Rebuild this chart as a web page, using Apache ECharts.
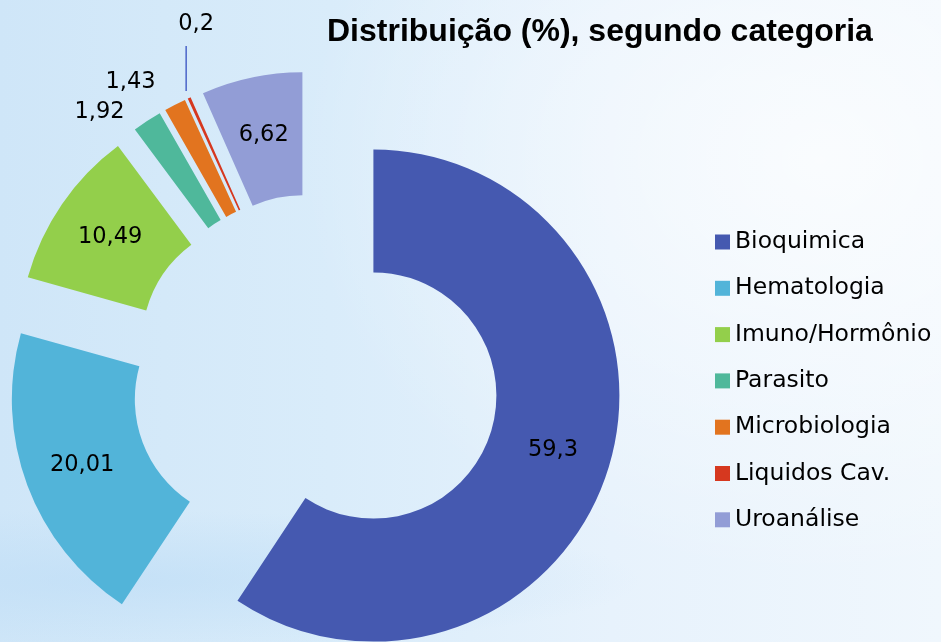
<!DOCTYPE html>
<html>
<head>
<meta charset="utf-8">
<script src="https://cdn.jsdelivr.net/npm/echarts@6/dist/echarts.min.js"></script>
<style>
  html, body { margin: 0; padding: 0; }
  #main {
    width: 941px; height: 642px;
    background:
      radial-gradient(ellipse 520px 70px at 120px 580px, rgba(188,220,246,0.6), rgba(188,220,246,0) 100%),
      radial-gradient(ellipse 520px 420px at 820px 160px, rgba(255,255,255,0.7), rgba(255,255,255,0) 100%),
      linear-gradient(to right, #cfe6f8 0%, #d9ecfa 35%, #e7f2fc 65%, #f0f7fd 100%);
  }
</style>
</head>
<body>
<div id="main"></div>
<script>
const categorias = ['Bioquimica', 'Hematologia', 'Imuno/Hormônio', 'Parasito', 'Microbiologia', 'Liquidos Cav.', 'Uroanálise'];
const valores = [59.3, 20.01, 10.49, 1.92, 1.43, 0.2, 6.62];
const cores = ['#4559b0', '#52b4d9', '#93cf4b', '#4fb89b', '#e2741f', '#d6381f', '#929dd6'];

// fatias pequenas: rótulo fora
const linhaRotulo = {
  3: { length: 10, length2: 12 },
  4: { length: 25, length2: 3 },
  5: { length: 10, length2: 0 }
};

var myChart = echarts.init(document.getElementById('main'));

const dados = valores.map((v, i) => {
  const item = {
    name: categorias[i],
    value: v,
    selected: true,
    itemStyle: { color: cores[i] }
  };
  if (linhaRotulo[i]) {
    item.label = { position: 'outside' };
    item.labelLine = {
      show: i === 5,
      length: linhaRotulo[i].length,
      length2: linhaRotulo[i].length2,
      lineStyle: { color: '#4a64c8', width: 1.5 }
    };
  }
  return item;
});

const option = {
  animation: false,
  title: {
    text: 'Distribuição (%), segundo categoria',
    left: 322,
    top: 11,
    textStyle: {
      fontFamily: 'Liberation Sans',
      fontWeight: 'bold',
      fontSize: 32,
      color: '#000'
    }
  },
  legend: {
    orient: 'vertical',
    left: 710,
    top: 225,
    icon: 'rect',
    itemWidth: 15,
    itemHeight: 15,
    itemGap: 22.3,
    selectedMode: false,
    textStyle: {
      fontFamily: 'DejaVu Sans',
      fontSize: 23.5,
      lineHeight: 24,
      color: '#000'
    },
    data: categorias
  },
  series: [
    {
      type: 'pie',
      center: [315, 378],
      radius: [123, 246],
      startAngle: 90,
      clockwise: true,
      selectedMode: 'multiple',
      selectedOffset: 61,
      avoidLabelOverlap: false,
      emphasis: { disabled: true },
      itemStyle: { borderWidth: 0 },
      label: {
        position: 'inside',
        fontFamily: 'DejaVu Sans',
        fontSize: 22.5,
        color: '#000',
        formatter: p => String(p.value).replace('.', ',')
      },
      labelLayout: function (p) {
        // Liquidos: linha vertical até o rótulo
        if (p.dataIndex !== 5) return;
        const p0 = p.labelLinePoints[0];
        const x = p0[0] - 3;
        return {
          dx: 34,
          dy: -65,
          labelLinePoints: [[x, p0[1] - 7], [x, p0[1] - 52], [x, p0[1] - 52]]
        };
      },
      data: dados
    }
  ]
};

myChart.setOption(option);
</script>
</body>
</html>
